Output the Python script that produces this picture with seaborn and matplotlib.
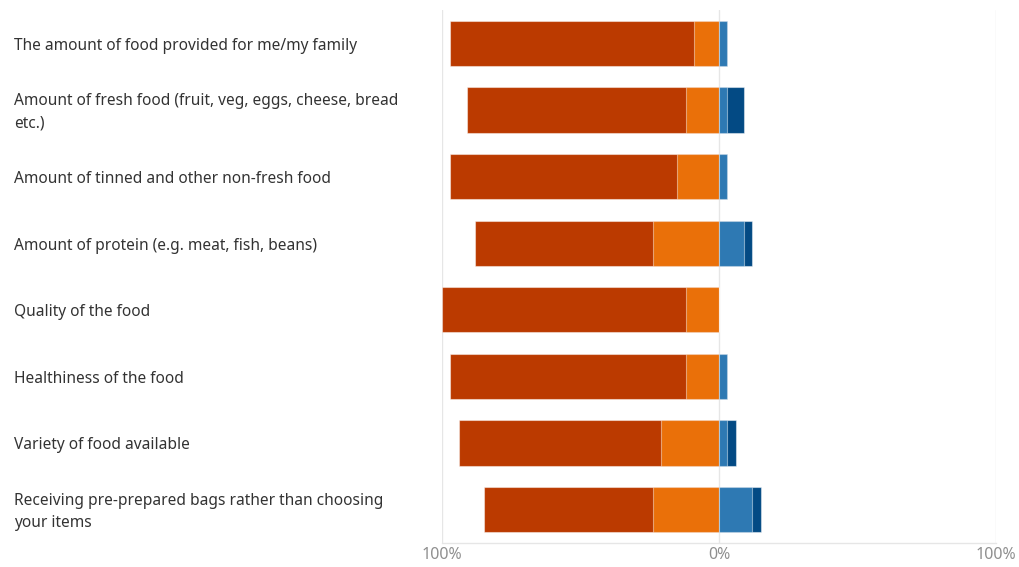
import matplotlib
matplotlib.use("Agg")
import matplotlib.pyplot as plt
import matplotlib.transforms as mtransforms
import seaborn as sns
import pandas as pd
import numpy as np

categories = [
    "The amount of food provided for me/my family",
    "Amount of fresh food (fruit, veg, eggs, cheese, bread\netc.)",
    "Amount of tinned and other non-fresh food",
    "Amount of protein (e.g. meat, fish, beans)",
    "Quality of the food",
    "Healthiness of the food",
    "Variety of food available",
    "Receiving pre-prepared bags rather than choosing\nyour items",
]
very_neg = [88, 79, 82, 64, 88, 85, 73, 61]
neg = [9, 12, 15, 24, 12, 12, 21, 24]
pos = [3, 3, 3, 9, 0, 3, 3, 12]
very_pos = [0, 6, 0, 3, 0, 0, 3, 3]
tick_values = [-100, 0, 100]
tick_labels = ["100%", "0%", "100%"]

c_very_neg = "#bb3a00"
c_neg = "#ea7009"
c_pos = "#2e79b3"
c_very_pos = "#034a84"

sns.set_theme(style="white")
plt.rcParams["font.family"] = ["Noto Sans", "DejaVu Sans"]

df = pd.DataFrame({
    "cat": categories,
    "neg_total": -(np.array(very_neg) + np.array(neg)),
    "neg": -np.array(neg),
    "pos_total": np.array(pos) + np.array(very_pos),
    "pos": np.array(pos),
})

fig = plt.figure(figsize=(10.19, 5.67), dpi=100)
ax = fig.add_axes([442 / 1019, 24 / 567, 554 / 1019, 533 / 567])

edge = (1, 1, 1, 0.45)
w = 0.68
for col, color in [("neg_total", c_very_neg), ("neg", c_neg),
                   ("pos_total", c_very_pos), ("pos", c_pos)]:
    sns.barplot(data=df, x=col, y="cat", orient="h", color=color,
                width=w, edgecolor=edge, linewidth=0.8, ax=ax,
                saturation=1, order=categories)

ax.set_xlim(-100, 100)
ax.set_ylim(7.5, -0.5)
ax.set_xticks(tick_values)
ax.set_xticklabels(tick_labels, color="#8f8f8f", fontsize=11.5)
ax.tick_params(axis="x", length=0, pad=3)
ax.set_yticks([])
ax.set_xlabel("")
ax.set_ylabel("")
ax.set_axisbelow(True)
for x in tick_values:
    ax.axvline(x, color="#e6e6e6", lw=1, zorder=0)
for s in ["top", "left", "right"]:
    ax.spines[s].set_visible(False)
ax.spines["bottom"].set_color("#e6e6e6")
ax.spines["bottom"].set_linewidth(1)

trans = mtransforms.blended_transform_factory(fig.transFigure, ax.transData)
for i, c in enumerate(categories):
    ax.text(14 / 1019, i + 0.035, c, transform=trans, ha="left", va="center",
            fontsize=11.15, color="#333333", linespacing=1.5)

fig.savefig("out.png", dpi=100)
